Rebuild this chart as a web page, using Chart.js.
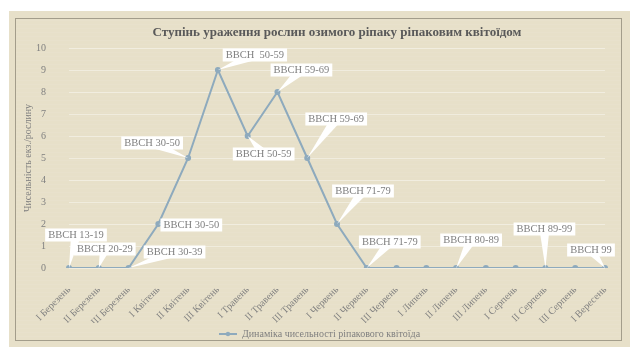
<!DOCTYPE html>
<html>
<head>
<meta charset="utf-8">
<script src="https://cdn.jsdelivr.net/npm/chart.js@4.4.1/dist/chart.umd.min.js"></script>
<style>
  html, body { margin: 0; padding: 0; background: #fff; }
  #wrap { width: 640px; height: 359px; }
</style>
</head>
<body>
<div id="wrap"><canvas id="chart" width="640" height="359"></canvas></div>
<script>
// дані з графіка
const periods = ['I Березень', 'II Березень', 'III Березень', 'I Квітень', 'II Квітень', 'III Квітень',
  'I Травень', 'II Травень', 'III Травень', 'I Червень', 'II Червень', 'III Червень',
  'I Липень', 'II Липень', 'III Липень', 'I Серпень', 'II Серпень', 'III Серпень', 'I Вересень'];
const density = [0, 0, 0, 2, 5, 9, 6, 8, 5, 2, 0, 0, 0, 0, 0, 0, 0, 0, 0];
const stageLabels = ['BBCH 13-19', 'BBCH 20-29', 'BBCH 30-39', 'BBCH 30-50', 'BBCH 30-50', 'BBCH  50-59',
  'BBCH 50-59', 'BBCH 59-69', 'BBCH 59-69', 'BBCH 71-79', 'BBCH 71-79', '', '', 'BBCH 80-89', '', '',
  'BBCH 89-99', '', 'BBCH 99'];
const yMin = 0, yMax = 10, yStep = 1;

// зсув виносок від точки (px)
const calloutOffsets = [[7, -33], [6, -19], [46, -16], [33, 1], [-36, -15], [37, -15], [16, 18], [24, -22],
  [29, -39], [26, -33], [23, -26], null, null, [15, -28], null, null, [-1, -39], null, [-14, -18]];

const lineColor = '#8eaabd';
const textColor = '#7f7f7f';
Chart.defaults.font.family = "'Liberation Serif', 'DejaVu Serif', serif";
Chart.defaults.color = textColor;

// фон з рамкою
const backgroundPlugin = {
  id: 'bgFrame',
  beforeDraw(chart) {
    const ctx = chart.ctx;
    ctx.save();
    ctx.fillStyle = '#e7e0c9';
    ctx.fillRect(9, 11, 621, 336);
    ctx.strokeStyle = 'rgba(255,255,255,0.06)';
    ctx.lineWidth = 1;
    for (let y = 20; y < 340; y += 4) {
      ctx.beginPath();
      ctx.moveTo(16, y + 0.5);
      ctx.lineTo(621, y + 0.5);
      ctx.stroke();
    }
    ctx.strokeStyle = '#a39d8b';
    ctx.strokeRect(15.5, 18.5, 606, 322);
    ctx.restore();
  }
};

// виноски з фазами BBCH
const calloutPlugin = {
  id: 'callouts',
  afterDatasetsDraw(chart) {
    const ctx = chart.ctx;
    const meta = chart.getDatasetMeta(0);
    ctx.save();
    ctx.font = "10.5px 'Liberation Serif', serif";
    ctx.textAlign = 'center';
    ctx.textBaseline = 'middle';
    meta.data.forEach((pt, i) => {
      const text = stageLabels[i];
      const off = calloutOffsets[i];
      if (!text || !off) return;
      const cx = pt.x + off[0], cy = pt.y + off[1];
      const w = ctx.measureText(text).width + 6, h = 13;
      // клин
      const dx = pt.x - cx, dy = pt.y - cy;
      const len = Math.sqrt(dx * dx + dy * dy) || 1;
      const nx = -dy / len * 5, ny = dx / len * 5;
      ctx.fillStyle = '#ffffff';
      ctx.beginPath();
      ctx.moveTo(cx + nx, cy + ny);
      ctx.lineTo(pt.x, pt.y);
      ctx.lineTo(cx - nx, cy - ny);
      ctx.closePath();
      ctx.fill();
      ctx.fillRect(cx - w / 2, cy - h / 2, w, h);
      ctx.fillStyle = textColor;
      ctx.fillText(text, cx, cy + 0.5);
    });
    ctx.restore();
  }
};

// значок легенди: лінія з точкою
const legendIcon = document.createElement('canvas');
legendIcon.width = 18; legendIcon.height = 6;
(function () {
  const c = legendIcon.getContext('2d');
  c.strokeStyle = lineColor; c.lineWidth = 2;
  c.beginPath(); c.moveTo(0, 3); c.lineTo(18, 3); c.stroke();
  c.fillStyle = lineColor;
  c.beginPath(); c.arc(9, 3, 2.2, 0, Math.PI * 2); c.fill();
})();

const chart = new Chart(document.getElementById('chart'), {
  type: 'line',
  data: {
    labels: periods,
    datasets: [{
      label: 'Динаміка чисельності ріпакового квітоїда',
      data: density,
      borderColor: lineColor,
      backgroundColor: lineColor,
      borderWidth: 2,
      pointRadius: 2,
      pointHoverRadius: 2,
      tension: 0,
      pointStyle: 'circle'
    }]
  },
  options: {
    responsive: false,
    animation: false,
    devicePixelRatio: 1,
    layout: { padding: { left: 34, right: 35, top: 0, bottom: 10 } },
    plugins: {
      title: {
        display: true,
        fullSize: false,
        text: 'Ступінь ураження рослин озимого ріпаку ріпаковим квітоїдом',
        color: '#595959',
        font: { size: 13, weight: 'bold' },
        padding: { top: 25, bottom: 7.4 }
      },
      legend: {
        position: 'bottom',
        labels: {
          usePointStyle: true,
          pointStyle: legendIcon,
          pointStyleWidth: 18,
          color: textColor,
          font: { size: 10 },
          padding: 6
        }
      },
      tooltip: { enabled: false }
    },
    scales: {
      x: {
        offset: false,
        grid: { display: false },
        border: { display: false },
        ticks: {
          autoSkip: false,
          minRotation: 45,
          maxRotation: 45,
          padding: 8,
          color: textColor,
          font: { size: 10 }
        },
        afterFit(scale) { scale.height = 55; }
      },
      y: {
        min: yMin,
        max: yMax,
        border: { display: false },
        grid: { color: 'rgba(255,255,255,0.4)', drawTicks: false },
        ticks: { stepSize: yStep, padding: 23, color: textColor, font: { size: 10 } },
        title: {
          display: true,
          text: 'Чисельність екз./рослину',
          color: textColor,
          font: { size: 10 },
          padding: { top: -12, bottom: 0 }
        },
        afterFit(scale) { scale.width = 35; }
      }
    }
  },
  plugins: [backgroundPlugin, calloutPlugin]
});
</script>
</body>
</html>
